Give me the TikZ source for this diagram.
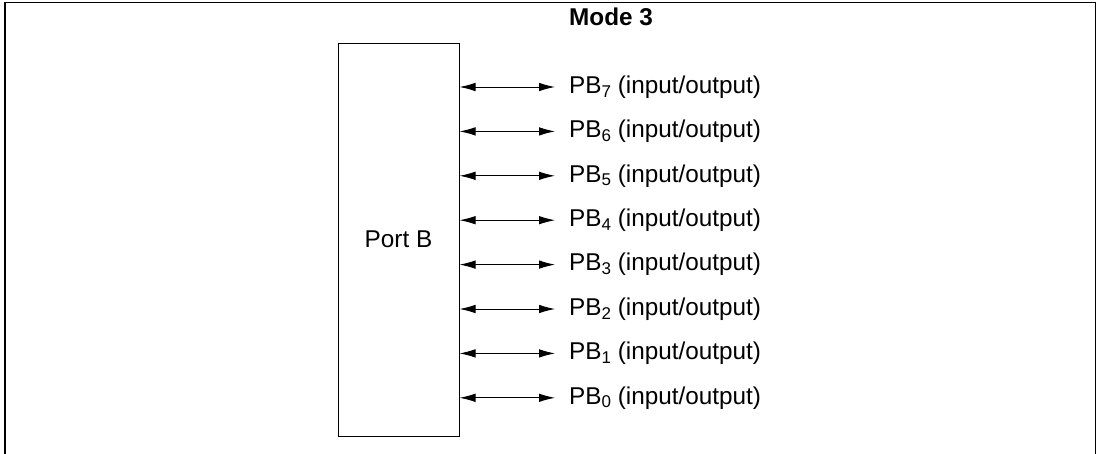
\documentclass[tikz,border=0pt]{standalone}
\usepackage{fontspec}
\setmainfont{Liberation Sans}
\usetikzlibrary{arrows.meta, positioning}
\newcommand{\pbsub}[1]{\raisebox{-0.3ex}{\fontsize{17}{17}\selectfont #1}}

\begin{document}
\begin{tikzpicture}[x=1pt, y=-1pt,
    port/.style={draw, line width=1pt, minimum width=121pt, minimum height=393pt,
                 inner sep=0pt, text depth=0pt, font=\fontsize{24.3}{29}\selectfont},
    pin/.style={anchor=west, inner xsep=14pt, inner ysep=0pt, minimum height=44pt,
                font=\fontsize{24.3}{29}\selectfont},
    io/.style={{Latex[length=16pt,width=8.5pt]}-{Latex[length=16pt,width=8.5pt]}, line width=0.9pt}
]
    \useasboundingbox (0,0) rectangle (1100,453);
    \draw[line width=1.3pt] (5,460) -- (5,2.5) -- (1095.5,2.5) -- (1095.5,460);

    \node[port] (portb) at (398.5,239.5) {Port B};
    \node[anchor=west, inner sep=0pt, font=\fontsize{24.3}{29}\selectfont\bfseries] (mode) at (569,17) {Mode 3};

    \node[pin] (pb7) at (555,87) {PB\pbsub{7} (input/output)};
    \node[pin, below=0pt of pb7] (pb6) {PB\pbsub{6} (input/output)};
    \node[pin, below=0pt of pb6] (pb5) {PB\pbsub{5} (input/output)};
    \node[pin, below=0pt of pb5] (pb4) {PB\pbsub{4} (input/output)};
    \node[pin, below=0pt of pb4] (pb3) {PB\pbsub{3} (input/output)};
    \node[pin, below=0pt of pb3] (pb2) {PB\pbsub{2} (input/output)};
    \node[pin, below=0pt of pb2] (pb1) {PB\pbsub{1} (input/output)};
    \node[pin, below=0pt of pb1] (pb0) {PB\pbsub{0} (input/output)};

    \foreach \p in {pb7,pb6,pb5,pb4,pb3,pb2,pb1,pb0}
        \draw[io] (\p.west -| portb.east) -- (\p.west);
\end{tikzpicture}
\end{document}
